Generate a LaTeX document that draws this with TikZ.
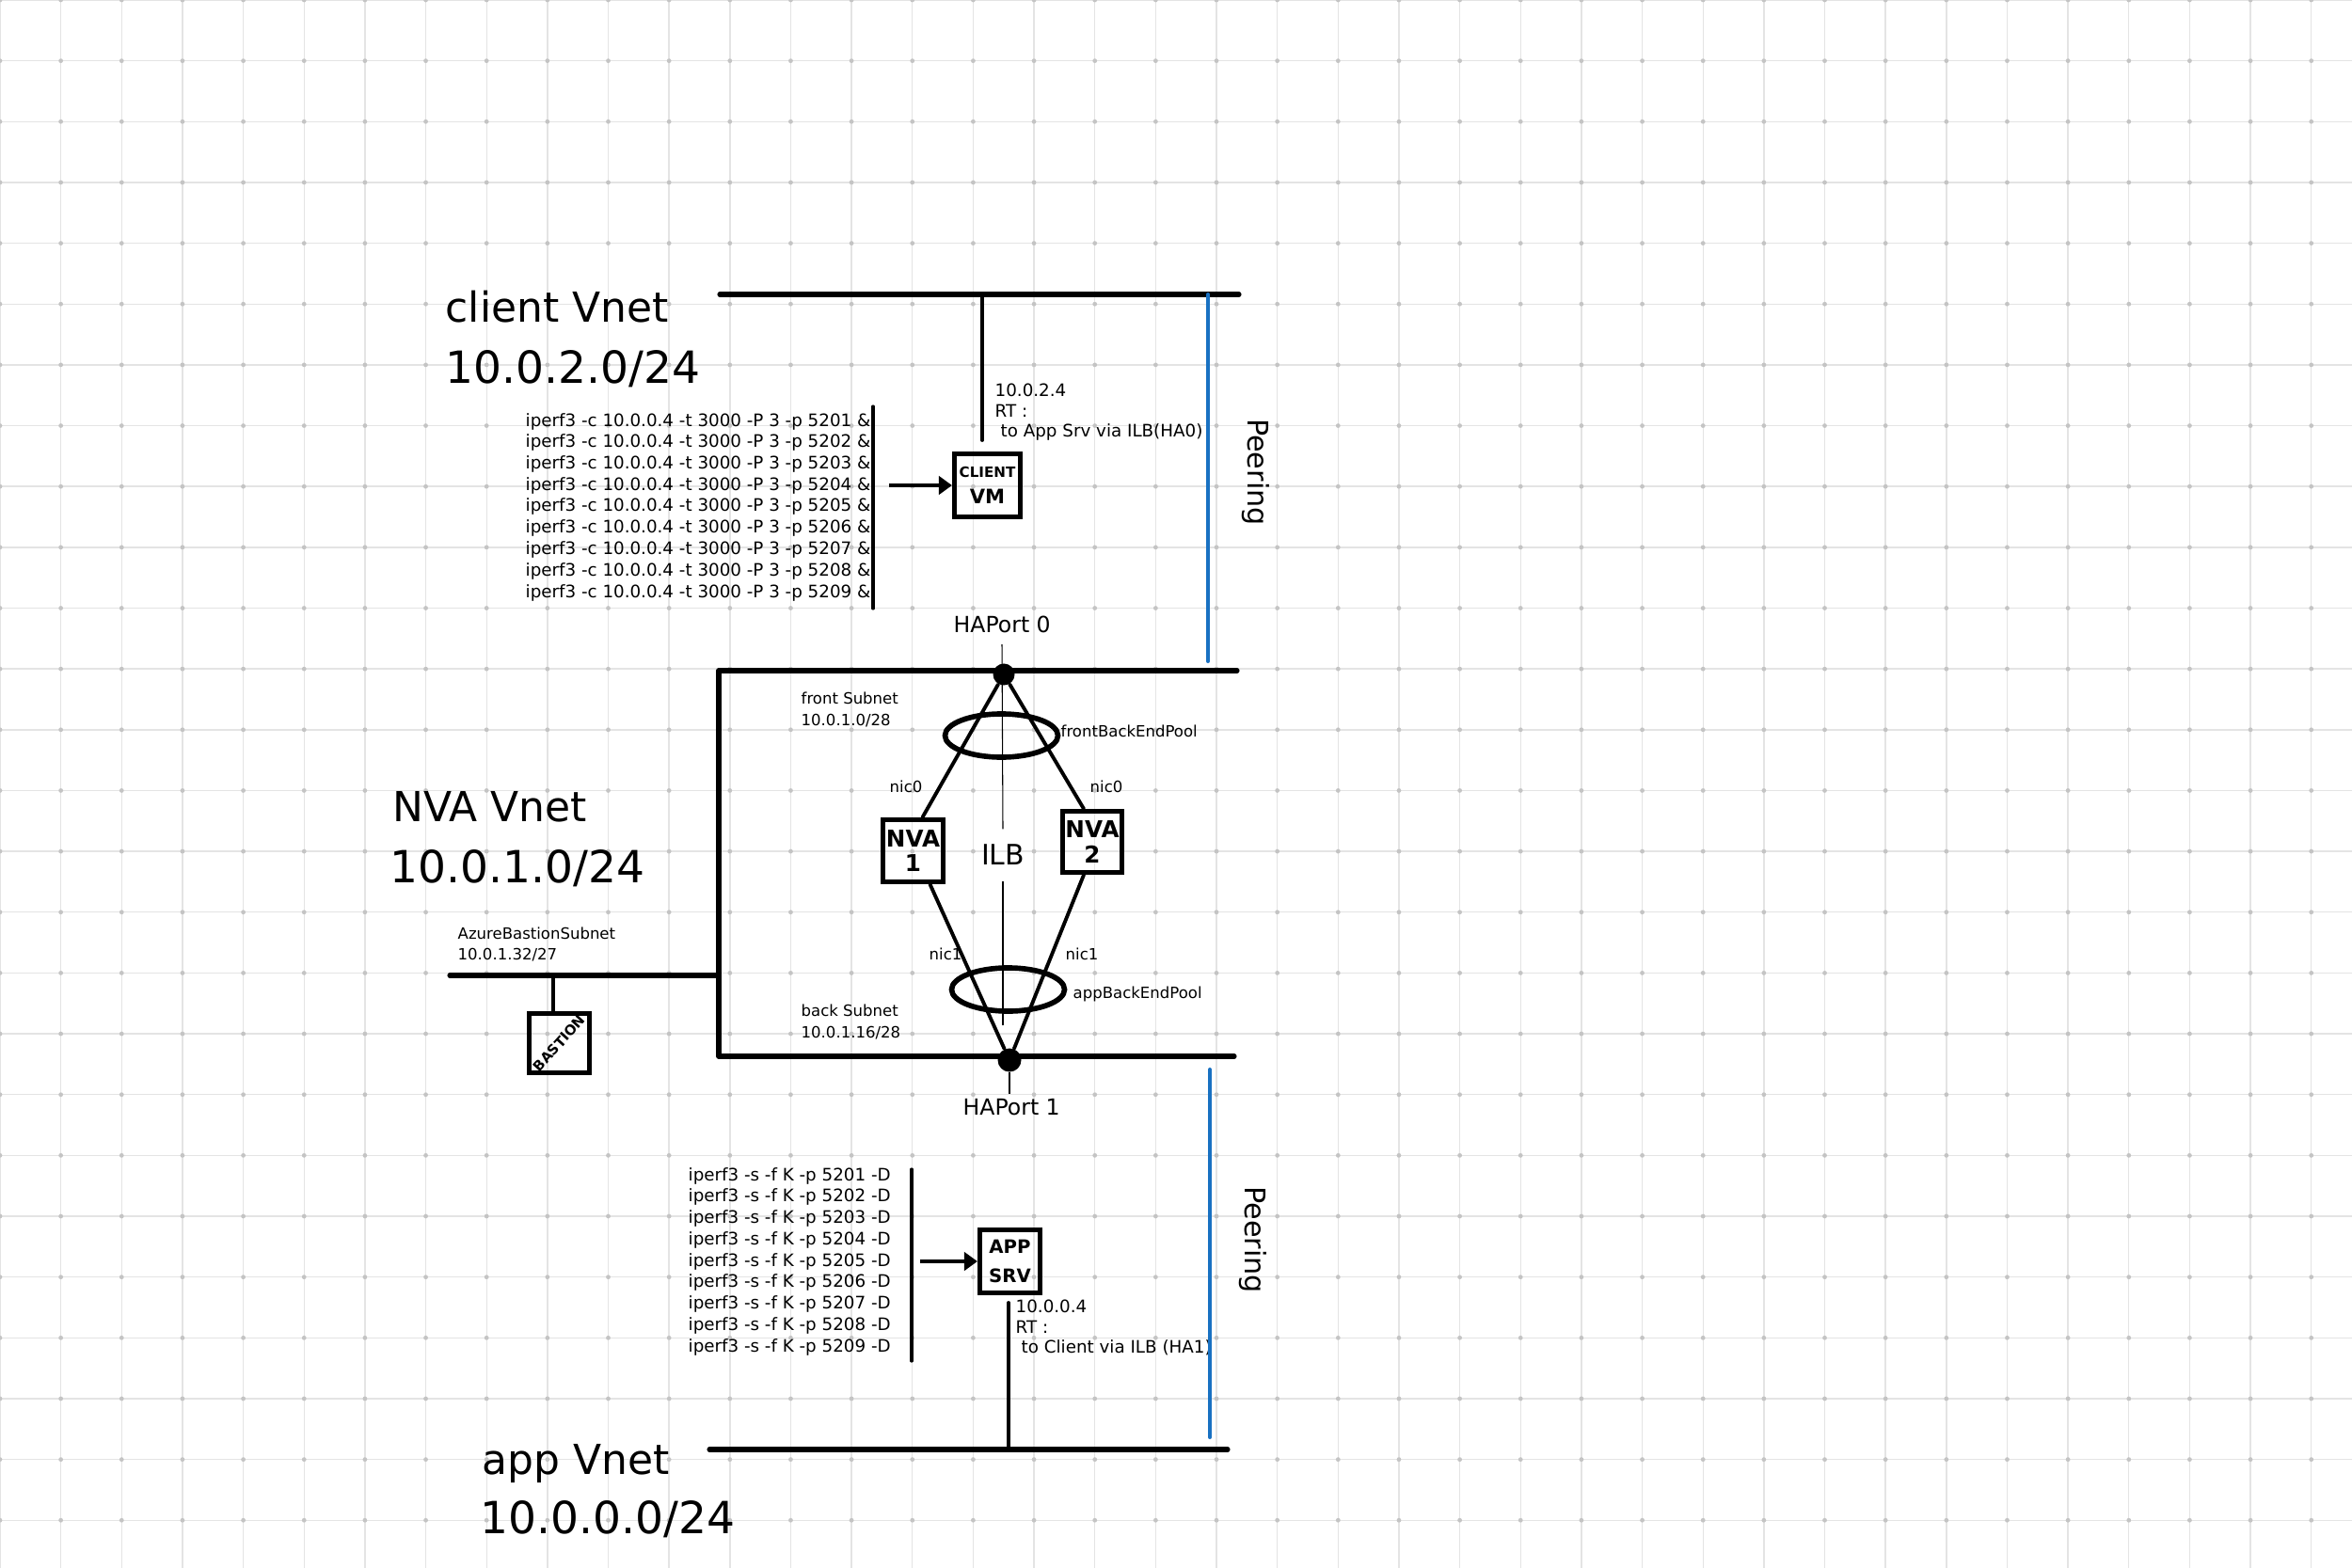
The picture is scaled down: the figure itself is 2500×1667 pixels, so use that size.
\documentclass[tikz,border=0pt]{standalone}
\usepackage{fontspec}
\setmainfont{DejaVu Sans}
\usetikzlibrary{arrows.meta,shapes.geometric}
\definecolor{gridline}{HTML}{E4E4E4}
\definecolor{griddot}{HTML}{C4C4C4}
\definecolor{peerblue}{HTML}{1971C2}
\begin{document}
\begin{tikzpicture}[x=0.01cm,y=-0.01cm,
  vnet/.style={line width=1.45pt, line cap=round, line join=round},
  link/.style={line width=1.1pt, line cap=round},
  bar/.style={line width=0.9pt, line cap=round},
  thin/.style={line width=0.3pt},
  peer/.style={line width=1.15pt, draw=peerblue, line cap=round},
  arr/.style={line width=1.2pt, -{Triangle[length=4pt,width=5.5pt]}},
  vmbox/.style={draw, line width=1.45pt, rectangle, inner sep=0pt, align=center},
  pool/.style={draw, ellipse, line width=1.6pt, inner sep=0pt, minimum width=1.2cm, minimum height=0.46cm},
  hadot/.style={circle, fill=black, inner sep=0pt, minimum size=0.23cm},
  big/.style={font=\fontsize{12.5}{14}\selectfont, anchor=base west, inner sep=0pt},
  bigaddr/.style={font=\fontsize{13.4}{15}\selectfont, anchor=base west, inner sep=0pt},
  cmd/.style={font=\fontsize{5.2}{6}\selectfont, anchor=base west, inner sep=0pt},
  lbl/.style={font=\fontsize{4.7}{5.5}\selectfont, anchor=base west, inner sep=0pt},
  port/.style={font=\fontsize{6.7}{8}\selectfont, anchor=base west, inner sep=0pt},
  peerlbl/.style={font=\fontsize{8.6}{10}\selectfont, rotate=-90, inner sep=0pt}
]
\useasboundingbox (0,0) rectangle (2500,1667);
\fill[white] (0,0) rectangle (2500,1667);
% grid
\foreach \i in {0,...,38} \draw[gridline, line width=0.4pt] (\i*64.65,0) -- (\i*64.65,1667);
\foreach \j in {0,...,25} \draw[gridline, line width=0.4pt] (0,\j*64.65) -- (2500,\j*64.65);
\foreach \i in {0,...,38} \foreach \j in {0,...,25} \fill[griddot] (\i*64.65,\j*64.65) circle[radius=0.024cm];

% ---------- client Vnet ----------
\node[big] (cvname) at (473,343) {client Vnet};
\node[bigaddr] (cvaddr) at (473,408) {10.0.2.0/24};
\coordinate (cvL) at (765,313);
\coordinate (cvR) at (1317,313);
\draw[vnet] (cvL) -- (cvR);
\node[vmbox, minimum width=0.70cm, minimum height=0.67cm, font=\bfseries\fontsize{6}{8}\selectfont] (cvm) at (1049.5,516)
  {\fontsize{4.3}{5}\selectfont CLIENT\\VM};
\coordinate (cvmTap) at (1044,468);
\draw[link] (cvmTap |- cvL) -- (cvmTap);
\node[cmd] (cip) at (1057,422) {10.0.2.4};
\node[cmd] (crt) at (1057,443) {RT :};
\node[cmd] (crt2) at (1063,465) {to App Srv via ILB(HA0)};
\foreach \p [count=\k from 0] in {5201,5202,5203,5204,5205,5206,5207,5208,5209}
  \node[cmd] (cc\k) at (558,453+\k*22.75) {iperf3 -c 10.0.0.4 -t 3000 -P 3 -p \p\ \&};
\coordinate (cbarT) at (928,432);
\coordinate (cbarB) at (928,647);
\draw[bar] (cbarT) -- (cbarB);
\coordinate (carrS) at (945,516);
\draw[arr] (carrS) -- (cvm.west);
% peering 1
\coordinate (p1T) at (1284,313);
\coordinate (p1B) at (1284,703);
\draw[peer] (p1T) -- (p1B);
\node[peerlbl] (peer1) at (1335,502) {Peering};

% ---------- NVA Vnet ----------
\node[big] (nvname) at (417,873) {NVA Vnet};
\node[bigaddr] (nvaddr) at (414,938) {10.0.1.0/24};
\coordinate (nTL) at (764,713);
\coordinate (nTR) at (1315,713);
\coordinate (nBL) at (764,1123);
\coordinate (nBR) at (1312,1123);
\draw[vnet] (nTR) -- (nTL) -- (nBL) -- (nBR);
\node[port] (hap0) at (1013,672) {HAPort 0};
\node[port] (hap1) at (1023,1185) {HAPort 1};
\node[lbl] (fsub) at (851,748) {front Subnet};
\node[lbl] (fsubip) at (851,771) {10.0.1.0/28};
\node[lbl] (bsub) at (851,1080) {back Subnet};
\node[lbl] (bsubip) at (851,1103) {10.0.1.16/28};
% ILB
\node[font=\fontsize{8.5}{10}\selectfont, inner xsep=0pt, inner ysep=0.16cm] (ilb) at (1066,909) {ILB};
\coordinate (ilbTop) at (1065,685);
\coordinate (ilbLow) at (1066,1090);
\coordinate (ilbEnd) at (1073,1163);
\draw[thin] (ilbTop) -- (ilb.north);
\draw[thin] (ilb.south) -- (ilbLow);
\node[pool] (fpool) at (1064.5,782) {};
\node[pool] (apool) at (1071.5,1052) {};
\node[lbl] (fpoollbl) at (1127,783) {frontBackEndPool};
\node[lbl] (apoollbl) at (1140,1061) {appBackEndPool};
\node[vmbox, minimum width=0.64cm, minimum height=0.66cm, font=\bfseries\fontsize{7}{7.5}\selectfont] (nva1) at (970.5,904.5)
  {NVA\\1};
\node[vmbox, minimum width=0.63cm, minimum height=0.65cm, font=\bfseries\fontsize{7}{7.5}\selectfont] (nva2) at (1161,895)
  {NVA\\2};
\node[hadot] (ha0) at (1067,717) {};
\node[hadot, minimum size=0.25cm] (ha1) at (1073,1127) {};
\draw[thin] (ha1) -- (ilbEnd);
\draw[link] (ha0) -- ([xshift=0.1cm]nva1.north);
\draw[link] (ha0) -- ([xshift=-0.09cm]nva2.north);
\draw[link] ([xshift=0.18cm]nva1.south) -- (ha1);
\draw[link] ([xshift=-0.09cm]nva2.south) -- (ha1);
\node[lbl] (nic0a) at (945,842) {nic0};
\node[lbl] (nic0b) at (1158,842) {nic0};
\node[lbl] (nic1a) at (987,1020) {nic1};
\node[lbl] (nic1b) at (1132,1020) {nic1};
% Bastion
\node[lbl] (bassub) at (486,998) {AzureBastionSubnet};
\node[lbl] (bassubip) at (486,1020) {10.0.1.32/27};
\coordinate (bsL) at (478,1037);
\coordinate (bsR) at (764,1037);
\draw[vnet] (bsL) -- (bsR);
\node[vmbox, minimum width=0.64cm, minimum height=0.63cm] (bastion) at (594.5,1109) {};
\node[rotate=48, inner sep=0pt, font=\bfseries\fontsize{4.2}{5}\selectfont] (bastxt) at (bastion.center) {BASTION};
\coordinate (basTap) at (588,1037);
\draw[link] (basTap) -- (basTap |- bastion.north);

% ---------- app Vnet ----------
\node[big] (avname) at (512,1567) {app Vnet};
\node[bigaddr] (avaddr) at (510,1630) {10.0.0.0/24};
\coordinate (avL) at (754,1541);
\coordinate (avR) at (1305,1541);
\draw[vnet] (avL) -- (avR);
\node[vmbox, minimum width=0.64cm, minimum height=0.67cm, font=\bfseries\fontsize{5.6}{9}\selectfont] (app) at (1073.5,1341)
  {APP\\SRV};
\coordinate (appTap) at (1072,1385);
\draw[link] (appTap) -- (appTap |- avL);
\node[cmd] (aip) at (1079,1395) {10.0.0.4};
\node[cmd] (art) at (1079,1417) {RT :};
\node[cmd] (art2) at (1085,1438) {to Client via ILB (HA1)};
\foreach \p [count=\k from 0] in {5201,5202,5203,5204,5205,5206,5207,5208,5209}
  \node[cmd] (sc\k) at (731,1255+\k*22.75) {iperf3 -s -f K -p \p\ -D};
\coordinate (abarT) at (969,1243);
\coordinate (abarB) at (969,1447);
\draw[bar] (abarT) -- (abarB);
\coordinate (aarrS) at (978,1341);
\draw[arr] (aarrS) -- (app.west);
% peering 2
\coordinate (p2T) at (1286,1137);
\coordinate (p2B) at (1286,1528);
\draw[peer] (p2T) -- (p2B);
\node[peerlbl] (peer2) at (1332,1318) {Peering};
\end{tikzpicture}
\end{document}
